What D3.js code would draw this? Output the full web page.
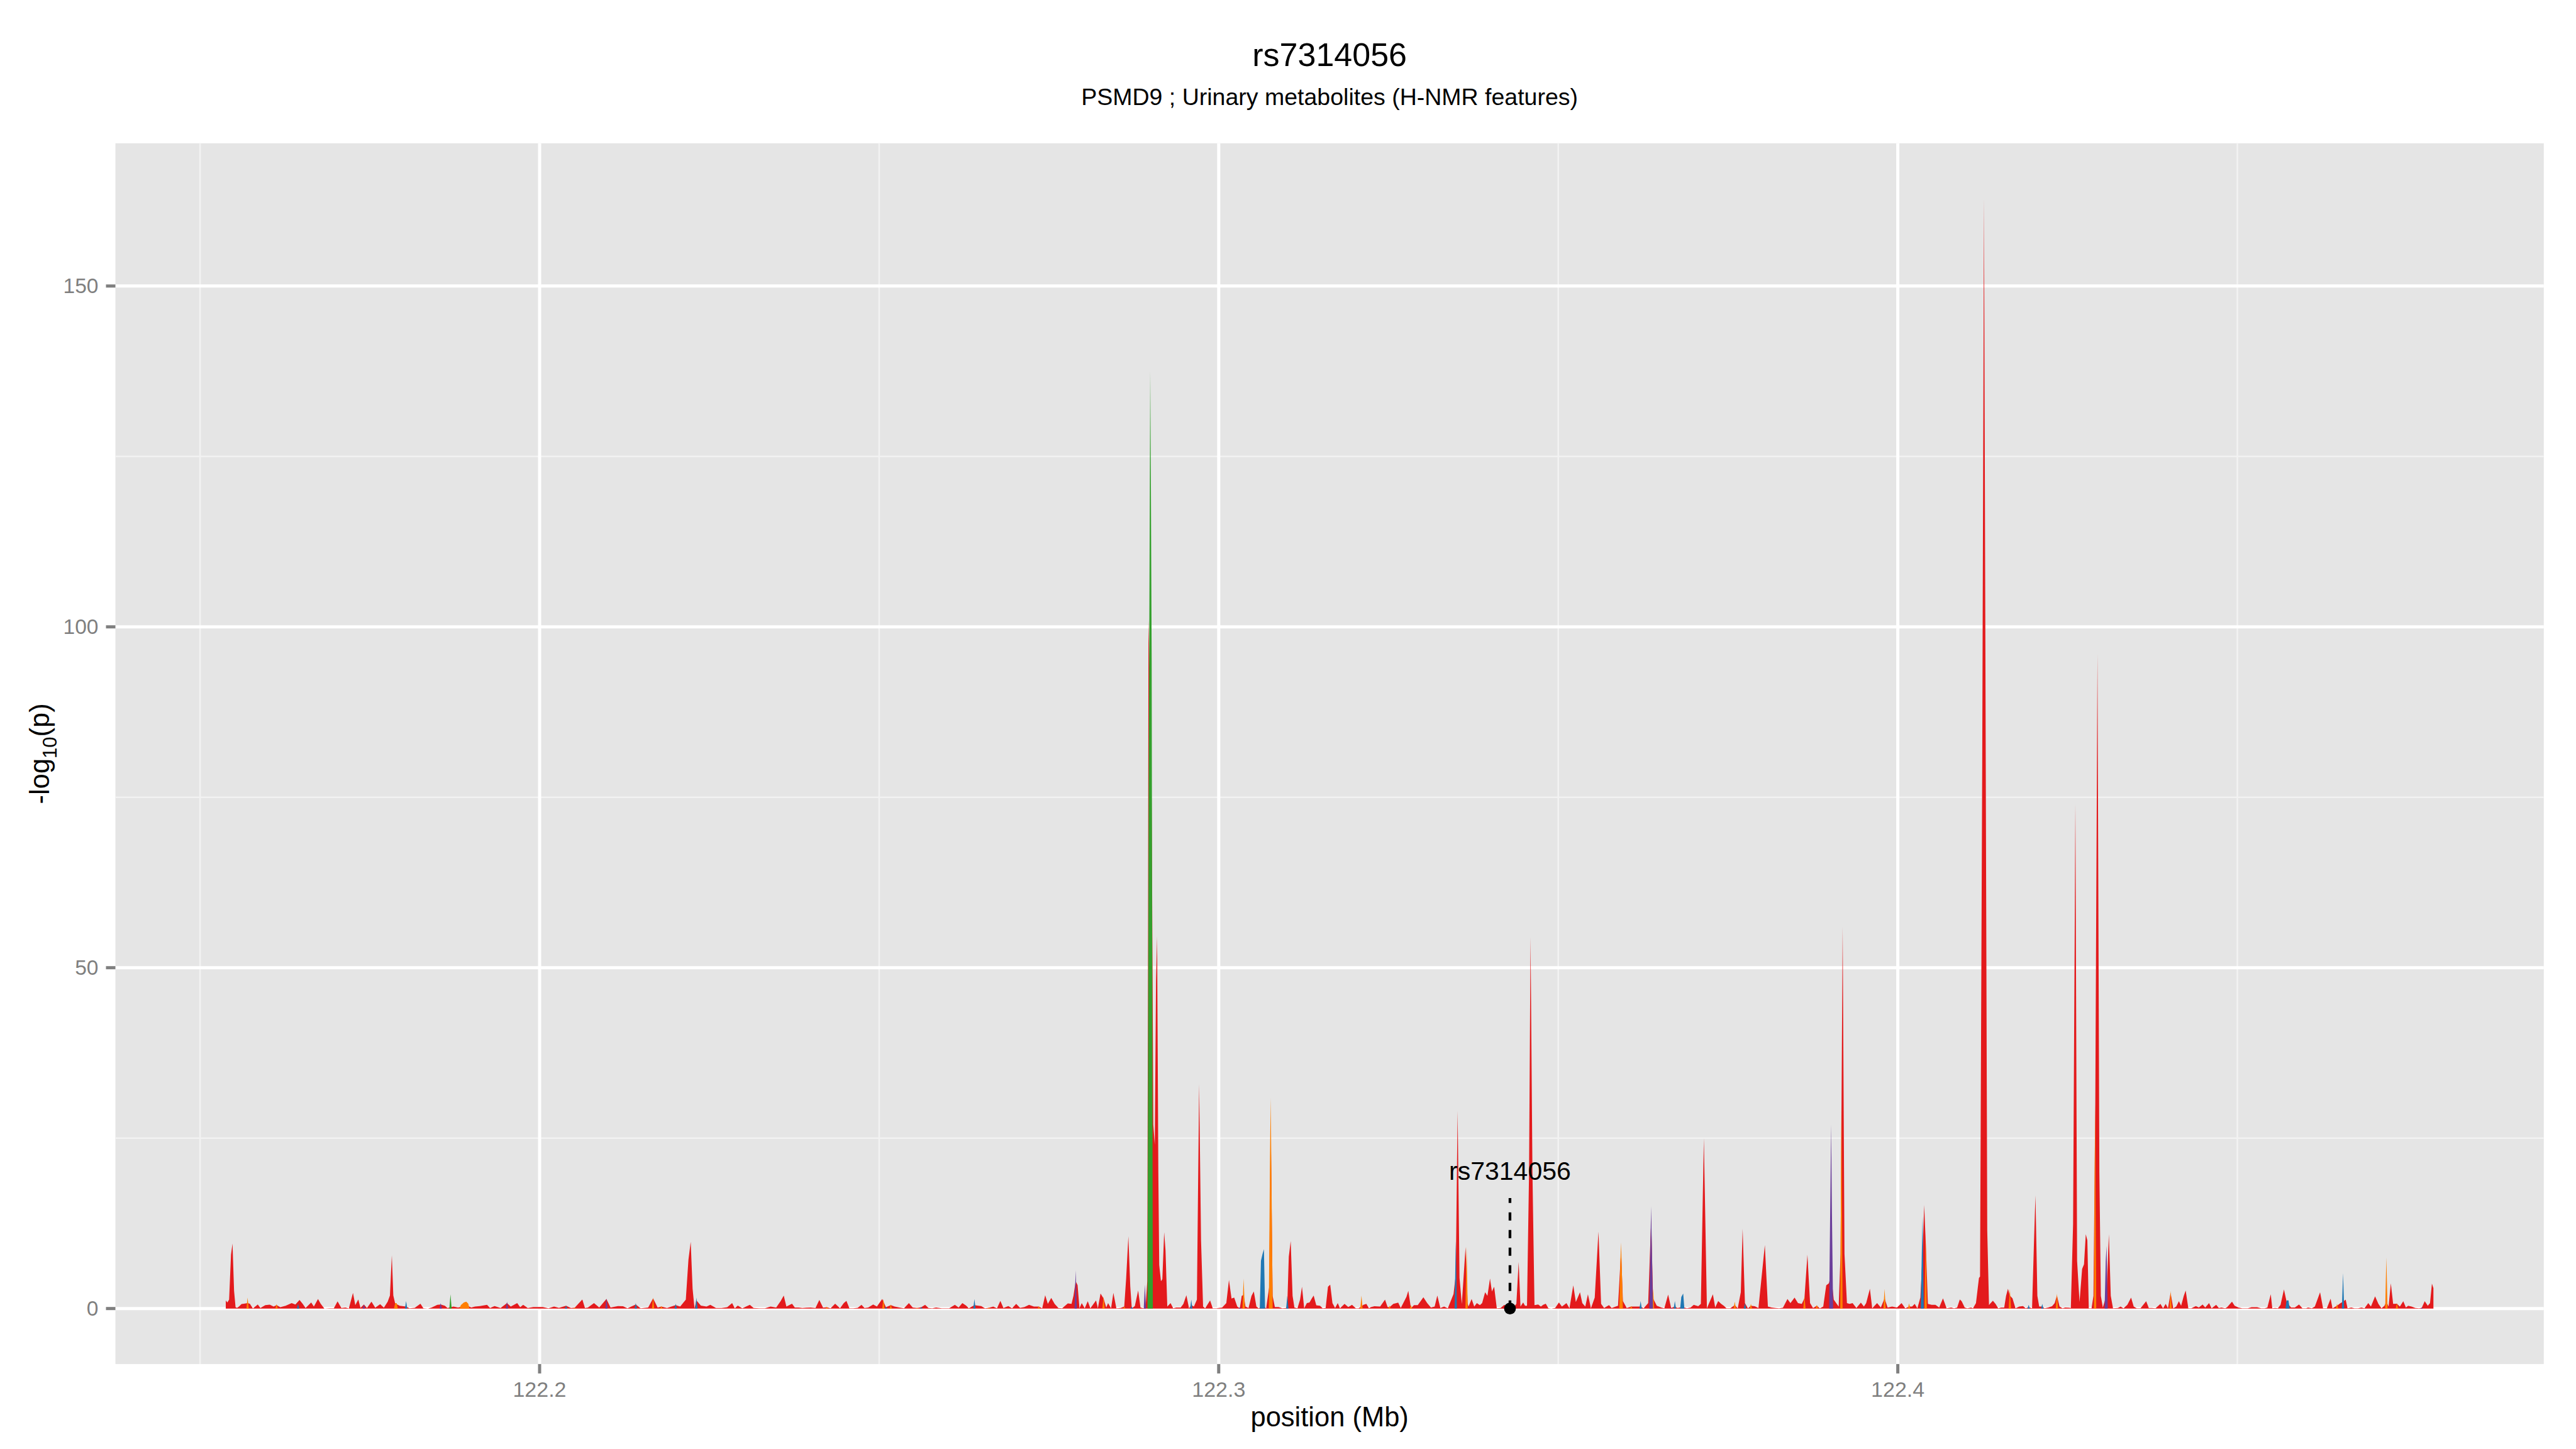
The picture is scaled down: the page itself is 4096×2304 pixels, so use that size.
<!DOCTYPE html>
<html>
<head>
<meta charset="utf-8">
<script src="https://cdn.jsdelivr.net/npm/d3@7"></script>
<style>
  body { margin: 0; background: #fff; }
  svg { display: block; }
</style>
</head>
<body>
<div id="chart"></div>
<script>
// Chart text
const chartTitle = "rs7314056";
const chartSubtitle = "PSMD9 ; Urinary metabolites (H-NMR features)";
const xLabel = "position (Mb)";

// Axis breaks
const xMajor = [122.2, 122.3, 122.4];
const xMinor = [122.15, 122.25, 122.35, 122.45];
const yMajor = [0, 50, 100, 150];
const yMinor = [25, 75, 125];

// Lead SNP annotation
const leadName = "rs7314056";
const leadPos = 122.34289;
const leadLineTop = 16.2;
const leadLabelY = 18.9;

// -log10(p) per SNP, best feature (red group) : [position Mb, value]
const redSeries = [
  [122.15379,1.2],[122.15401,0.9],[122.15428,1.3],[122.15456,7.9],[122.15478,9.55],[122.15501,2.6],[122.15523,0.2],[122.15545,0.1],
  [122.15573,0.3],[122.15611,0.65],[122.15645,0.7],[122.157,0.8],[122.15733,0.7],[122.15778,0.02],[122.1585,0.6],[122.15889,0.08],
  [122.15961,0.5],[122.16027,0.58],[122.16083,0.3],[122.16127,0.5],[122.16182,0.2],[122.1626,0.4],[122.16349,0.8],[122.16404,0.6],
  [122.16465,1.26],[122.1651,0.7],[122.16554,0.08],[122.16637,0.9],[122.16676,0.3],[122.16737,1.4],[122.16776,0.7],[122.16831,0],
  [122.16909,0.05],[122.1697,0.05],[122.17025,1.05],[122.17081,0.08],[122.17142,0.15],[122.17191,0.02],[122.17252,2.3],[122.17286,0.5],
  [122.1733,1.34],[122.17363,0.1],[122.17413,0.6],[122.17458,0.08],[122.17524,1.0],[122.1758,0.13],[122.17652,0.63],[122.17707,0.13],
  [122.17763,1.0],[122.17796,1.9],[122.17824,7.8],[122.17846,1.9],[122.17873,0.75],[122.1794,0.4],[122.18034,0.3],[122.18084,0.03],
  [122.18162,0.1],[122.18245,0.7],[122.18289,0.03],[122.18356,0],[122.18411,0.15],[122.18494,0.55],[122.18544,0.6],[122.18605,0.4],
  [122.18644,0.08],[122.18688,0.2],[122.18733,0.3],[122.18799,0.15],[122.18855,0.3],[122.18938,0.4],[122.18993,0.15],[122.19049,0.3],
  [122.19121,0.37],[122.19226,0.55],[122.1927,0.08],[122.19337,0.35],[122.19426,0.08],[122.1952,0.8],[122.19575,0.3],[122.1967,0.8],
  [122.19714,0.2],[122.19758,0.55],[122.19825,0.08],[122.19908,0.23],[122.19975,0.23],[122.20047,0.23],[122.2013,0.03],[122.20213,0.3],
  [122.20285,0.1],[122.2039,0.4],[122.20462,0.08],[122.20518,0.13],[122.20629,1.34],[122.20668,0.08],[122.20712,0.15],[122.20801,0.8],
  [122.20878,0.15],[122.20984,1.4],[122.21045,0.15],[122.21155,0.37],[122.21228,0.34],[122.21294,0.03],[122.21416,0.6],[122.21488,0.03],
  [122.21599,0.15],[122.21671,1.5],[122.21738,0.15],[122.21793,0.3],[122.21876,0.08],[122.22004,0.5],[122.2207,0.3],[122.22153,1.3],
  [122.22192,7.2],[122.22225,9.8],[122.22253,2.9],[122.22281,0.03],[122.22309,1.2],[122.22375,0.42],[122.22458,0.3],[122.22514,0.55],
  [122.22597,0.08],[122.2268,0.08],[122.22763,0.2],[122.22835,0.8],[122.22874,0.03],[122.22918,0.42],[122.22985,0.03],[122.23096,0.55],
  [122.23151,0.08],[122.23234,0.03],[122.23318,0.03],[122.23401,0.3],[122.23484,0.15],[122.2355,1.1],[122.23595,1.9],[122.23634,0.3],
  [122.23717,0.7],[122.23758,0.15],[122.23814,0.15],[122.23869,0.08],[122.23925,0.13],[122.23991,0.15],[122.24063,0.08],[122.24119,1.26],
  [122.24174,0.13],[122.2423,0.2],[122.24285,0.03],[122.24352,0.7],[122.24424,0.03],[122.24479,0.8],[122.24518,1.13],[122.24562,0.03],
  [122.24618,0.03],[122.24684,0.1],[122.2474,0.55],[122.24784,0.08],[122.24839,0.15],[122.24912,0.6],[122.24967,0.3],[122.25045,1.4],
  [122.251,0.2],[122.25172,0.5],[122.25228,0.3],[122.25311,0.13],[122.25366,0.03],[122.25438,0.8],[122.25494,0.15],[122.2556,0.08],
  [122.25621,0.2],[122.25677,0.55],[122.25726,0.08],[122.25782,0.03],[122.25837,0.15],[122.25921,0.03],[122.26031,0.03],[122.26115,0.55],
  [122.2617,0.15],[122.26225,0.8],[122.26281,0.42],[122.2632,0.03],[122.26403,0.5],[122.26447,0.42],[122.26503,0.37],[122.26558,0.03],
  [122.26614,0.1],[122.2668,0.3],[122.26735,0.03],[122.26785,1.13],[122.2683,0.08],[122.26902,0.37],[122.26957,0.03],[122.27018,0.68],
  [122.27074,0.1],[122.2714,0.23],[122.27207,0.55],[122.27279,0.3],[122.27351,0.3],[122.27401,0.03],[122.27445,1.95],[122.27484,0.68],
  [122.27534,1.55],[122.27584,0.68],[122.27639,0.08],[122.27695,0.03],[122.27778,0.75],[122.27833,0.68],[122.27861,1.85],[122.27894,4.0],
  [122.27922,3.43],[122.2795,0.03],[122.27983,0.8],[122.28027,0.03],[122.28072,1.07],[122.2811,0.03],[122.28194,1.2],[122.28221,0.03],
  [122.2826,2.2],[122.28304,1.5],[122.28344,0.15],[122.28371,0.8],[122.28415,0.03],[122.28449,2.3],[122.28493,0.03],[122.28554,0.08],
  [122.28609,0.3],[122.28637,4.4],[122.2867,10.6],[122.28698,3.2],[122.2872,0.03],[122.28765,0.37],[122.28814,2.65],[122.28848,0.15],
  [122.28898,0.03],[122.28925,0.5],[122.28948,4],[122.28958,45],[122.28966,101],[122.2898,95],[122.28995,90],[122.29008,80],
  [122.29019,63],[122.29037,27],[122.29059,24],[122.29077,48],[122.29093,54.6],[122.29111,20],[122.29124,6.4],[122.2915,4],
  [122.2917,4.3],[122.29197,11.2],[122.29217,8.5],[122.29243,0.3],[122.29291,0.8],[122.2933,0.03],[122.29374,0.15],[122.29441,0.15],
  [122.2948,0.68],[122.29524,1.95],[122.29563,0.03],[122.29596,0.5],[122.29635,0.3],[122.29679,1.3],[122.29712,32.9],[122.2974,10],
  [122.2977,0.3],[122.29801,0.03],[122.29873,1.2],[122.29912,0.03],[122.29968,0.03],[122.30051,0.15],[122.30112,0.8],[122.30151,4.2],
  [122.30189,1.47],[122.30228,1.6],[122.30273,0.3],[122.30311,0.03],[122.30339,1.85],[122.30367,2],[122.30395,0.3],[122.30439,0.08],
  [122.30483,1.85],[122.30517,2.5],[122.30555,0.3],[122.30589,0.03],[122.30633,0.3],[122.30666,0.3],[122.30699,0.03],[122.30744,3.2],
  [122.30766,27],[122.30794,1.85],[122.30827,0.23],[122.30882,0.23],[122.30938,0.03],[122.30993,0.08],[122.3101,0.5],[122.31032,7.6],
  [122.3106,9.9],[122.31088,1.85],[122.31115,0.15],[122.3116,0.03],[122.31198,1.3],[122.31226,3.2],[122.31259,0.03],[122.31298,0.8],
  [122.31337,0.9],[122.3137,1.47],[122.31398,1.9],[122.31437,0.47],[122.31492,0.4],[122.31531,0.03],[122.31575,0.08],[122.31609,3.2],
  [122.31642,3.5],[122.31675,0.8],[122.31714,0.08],[122.31753,0.8],[122.31786,0.03],[122.31853,0.68],[122.31908,0.23],[122.31963,0.55],
  [122.32019,0.03],[122.32058,0.03],[122.32102,0.3],[122.3213,0.55],[122.32174,0.68],[122.32213,0.03],[122.32238,0.2],[122.32293,0.34],
  [122.32377,0.3],[122.32449,1.3],[122.32487,0.23],[122.32516,0.2],[122.32571,0.68],[122.32643,0.86],[122.32681,0.08],[122.32765,1.73],
  [122.32792,2.6],[122.32831,0.03],[122.32875,0.5],[122.32931,0.5],[122.33014,1.65],[122.3307,0.8],[122.33125,0.15],[122.3318,0.3],
  [122.33219,1.9],[122.33264,0.08],[122.33319,0.3],[122.33374,0.03],[122.33458,2.13],[122.33491,5],[122.33518,29],[122.33546,4.5],
  [122.3358,0.68],[122.33635,9.0],[122.33665,0.8],[122.33679,0.3],[122.33724,1.4],[122.33763,0.3],[122.33801,0.8],[122.33846,0.5],
  [122.33879,0.8],[122.33923,2.4],[122.33957,1.85],[122.33995,4.4],[122.34023,2.5],[122.34056,3.2],[122.34095,0.03],[122.34151,0.08],
  [122.34206,0.55],[122.34289,0],[122.34345,0.23],[122.34383,0.68],[122.34417,6.85],[122.34444,0.3],[122.34483,0.9],[122.34511,0.4],
  [122.3454,0.4],[122.3457,20],[122.34592,54.5],[122.3462,20],[122.3465,0.5],[122.34705,0.6],[122.34744,0.3],[122.34777,0.55],
  [122.34816,0.7],[122.34855,0.03],[122.34899,0],[122.34954,0.08],[122.3501,0.9],[122.35054,0.3],[122.35121,0.8],[122.35165,0.03],
  [122.35221,3.4],[122.35259,0.95],[122.3532,2.4],[122.35354,0.8],[122.35398,0.3],[122.35437,2.1],[122.35481,0.03],[122.35537,1.6],
  [122.35592,11.3],[122.35631,0.68],[122.35675,0.08],[122.35747,0.5],[122.35786,0.08],[122.3588,0.4],[122.35925,8.5],[122.35952,1.1],
  [122.36008,0.08],[122.36074,0.3],[122.36135,0.3],[122.36213,0.3],[122.36257,0.03],[122.36324,0.8],[122.36368,13],[122.36396,1.5],
  [122.36451,0.4],[122.36518,0.15],[122.36562,0.03],[122.36618,2.05],[122.36662,0.08],[122.36717,0.3],[122.36756,0.08],[122.36812,0.2],
  [122.3684,0.2],[122.36895,0.03],[122.3695,0.15],[122.36995,0.55],[122.37061,0.34],[122.371,0.68],[122.37144,25],[122.37189,0.03],
  [122.37277,2.1],[122.37311,0.15],[122.37355,1.1],[122.37399,0.68],[122.37438,0.4],[122.37477,0.03],[122.37532,0.03],[122.37599,0.5],
  [122.37643,0.03],[122.37688,2.4],[122.37715,11.7],[122.37749,0.8],[122.37793,0.03],[122.37837,0.4],[122.37893,0.34],[122.37948,0.08],
  [122.38042,9.3],[122.38087,0.3],[122.38142,0.15],[122.38198,0.08],[122.38253,0.03],[122.38309,0.13],[122.38375,1.4],[122.38419,0.8],
  [122.3848,1.6],[122.3853,0.8],[122.38586,0.68],[122.38625,1.5],[122.38669,7.9],[122.38708,0.8],[122.38752,0.08],[122.38808,0.4],
  [122.38852,0.03],[122.38902,0.3],[122.38946,3.4],[122.38985,3.7],[122.39018,5],[122.39057,1.3],[122.39101,0.68],[122.39129,0.3],
  [122.39157,8],[122.39188,56],[122.39215,8],[122.39251,0.8],[122.3929,0.68],[122.39334,0.8],[122.3939,0.08],[122.39456,0.86],
  [122.39501,0.3],[122.39534,0.8],[122.39589,2.9],[122.39623,0.03],[122.39695,0.8],[122.3975,0.15],[122.39805,1.5],[122.3985,0.15],
  [122.39916,0.3],[122.39988,0.15],[122.40055,0.8],[122.4011,0.03],[122.40166,0.3],[122.4021,0.3],[122.40249,0.68],[122.40288,0.03],
  [122.40332,1.6],[122.40365,8],[122.40388,15.2],[122.4041,10],[122.40443,0.68],[122.40498,0.55],[122.40554,0.55],[122.40609,0.15],
  [122.40665,1.5],[122.40691,0.8],[122.40718,0.03],[122.40785,0.15],[122.40829,0.03],[122.40874,0.15],[122.40913,1.34],[122.4094,1.07],
  [122.40985,0.15],[122.41023,0.03],[122.41079,0.15],[122.41107,0.03],[122.41151,0.8],[122.41195,4.5],[122.41211,4.7],[122.41243,80],
  [122.41269,162.8],[122.41295,80],[122.41317,11.4],[122.41343,0.5],[122.41356,0.68],[122.414,1.15],[122.41439,0.68],[122.41478,0.03],
  [122.41522,0.15],[122.41567,0.15],[122.41594,1.86],[122.41622,2.9],[122.4165,1.9],[122.41689,1.5],[122.41733,0.03],[122.41788,0.3],
  [122.41844,0.37],[122.41883,0.03],[122.41927,0.2],[122.41977,0.03],[122.42005,9.7],[122.42027,16.6],[122.42055,1.85],[122.42082,0.3],
  [122.42127,0.3],[122.4216,0.03],[122.42215,0.15],[122.42271,0.34],[122.4231,0.8],[122.42343,1.9],[122.42382,0.3],[122.42426,0.03],
  [122.42465,0.15],[122.4252,0.13],[122.42548,0.08],[122.42581,12.4],[122.42615,74],[122.42640,7],[122.42676,0.95],[122.42714,5.8],
  [122.42742,6.5],[122.42768,10.9],[122.42791,10],[122.42812,0.03],[122.42853,0.03],[122.42881,1.85],[122.42908,30],[122.42940,96],
  [122.42968,20],[122.4299,1.85],[122.43019,0.15],[122.43074,2],[122.43108,10.9],[122.43136,1.85],[122.43169,0.03],[122.43241,0.08],
  [122.4328,0.3],[122.43324,0.03],[122.4338,0.55],[122.43435,1.6],[122.43474,0.3],[122.43518,0.03],[122.43574,0.03],[122.43657,1.07],
  [122.43696,0.08],[122.4374,0.08],[122.43795,0.03],[122.43867,0.68],[122.43906,0.03],[122.43945,0.68],[122.43978,0.03],[122.44017,2.3],
  [122.44056,0.03],[122.441,0.3],[122.44139,1.07],[122.44172,0.4],[122.44211,1.85],[122.44239,2.65],[122.44278,0.03],[122.44322,0.03],
  [122.44389,0.37],[122.44433,0.15],[122.44488,0.6],[122.44527,0.15],[122.44583,0.8],[122.44621,0.03],[122.44688,0.55],[122.44727,0.08],
  [122.44766,0.15],[122.44821,0.03],[122.44849,0.2],[122.44921,1.0],[122.4496,0.4],[122.45015,0.15],[122.45071,0.03],[122.45154,0.03],
  [122.45209,0.2],[122.45292,0.2],[122.45348,0.03],[122.45403,0.03],[122.45442,0.15],[122.45492,2.1],[122.45514,0.03],[122.45558,0.08],
  [122.45597,0.03],[122.45636,0.55],[122.45686,2.8],[122.45725,1.0],[122.45753,0.6],[122.45791,0.15],[122.45847,0.15],[122.45908,0.6],
  [122.45958,0.03],[122.46013,0.03],[122.46041,0.15],[122.46096,0.03],[122.46141,0.3],[122.46218,2.4],[122.46262,0.03],[122.46318,0.03],
  [122.46373,1.45],[122.46401,0.03],[122.46468,0.4],[122.46512,0.76],[122.46556,1],[122.46595,1.3],[122.46623,0.03],[122.46678,0.15],
  [122.46723,0.03],[122.46778,0.03],[122.46828,0.15],[122.46872,0.03],[122.46928,0.8],[122.46967,0.3],[122.47028,1.8],[122.47077,0.68],
  [122.47122,0.03],[122.47166,0.4],[122.47194,1],[122.47227,0.3],[122.4726,3.7],[122.47294,0.68],[122.47349,0.7],[122.47393,0.3],
  [122.47443,1.07],[122.47482,0.15],[122.47515,0.4],[122.47565,0.3],[122.47621,0.08],[122.47676,0.03],[122.47715,0.1],[122.47759,1.07],
  [122.47804,0.4],[122.47837,0.8],[122.47865,3.65],[122.47887,3.0]
];

// SNPs where another feature group is the top association
const orangeSpikes = [
  [122.157,1.6],[122.16127,0.65],[122.17873,0.8],[122.17895,0.8],[122.1884,0.5],[122.18885,0.9],[122.1892,1.0],[122.1895,0.7],
  [122.20518,0.13],[122.21671,1.6],[122.21793,0.37],[122.2423,0.25],[122.25062,1.4],[122.25172,0.6],[122.2556,0.1],[122.26614,0.15],
  [122.27351,0.34],[122.28304,1.74],[122.28609,0.3],[122.30367,4.4],[122.30755,22],[122.30766,30.9],[122.30778,18],[122.32102,1.9],
  [122.32516,0.4],[122.32831,0.5],[122.3365,9.1],[122.35915,7],[122.35925,9.7],[122.35935,6],[122.36074,0.37],[122.36396,2.9],
  [122.37599,1.0],[122.37837,0.68],[122.38625,1.85],[122.38808,0.55],[122.3917,30],[122.39805,2.9],[122.40166,0.75],
  [122.4041,10.8],[122.4165,2.9],[122.42343,2.2],[122.42905,30],[122.44017,2.6],[122.46468,0.68],[122.47194,7.5],
  [122.47349,0.8]
];
const blueSpikes = [
  [122.16443,0.7],[122.18034,1.1],[122.2039,0.4],[122.21416,0.8],[122.22004,0.7],[122.22309,1.6],[122.251,0.23],[122.25621,0.23],
  [122.26403,1.4],[122.2872,0.3],[122.29596,1.3],[122.30622,7.0],[122.30645,8.0],[122.30666,8.7],[122.3101,1.85],[122.33491,9.9],
  [122.36213,1.1],[122.36717,1.1],[122.36812,1.7],[122.3684,2.2],[122.37749,0.8],[122.40355,9],[122.40365,13.5],[122.41927,0.55],
  [122.42127,0.68],[122.45725,1.2],[122.45753,1.2],[122.46556,5.2]
];
const purpleSpikes = [
  [122.17413,0.6],[122.18544,0.8],[122.1952,1.0],[122.20984,1.5],[122.27894,5.6],[122.28913,3.5],[122.30311,0.2],[122.36358,10],
  [122.36368,15],[122.36378,9],[122.36662,0.1],[122.39006,16],[122.39018,27],[122.3903,14],[122.43062,7],[122.43074,9.2],
  [122.47715,0.15]
];
const greenSpikes = [
  [122.18688,2.1],[122.28969,75],[122.28982,110],[122.28992,137.5],[122.29002,120],[122.29013,95]
];

const groupColors = {
  red: "#E31A1C",
  orange: "#FF7F00",
  blue: "#1F78B4",
  purple: "#6A3D9A",
  green: "#33A02C",
};

// Layout (window 4096x2304)
const width = 4096, height = 2304;
const panel = { left: 183.5, right: 4044.8, top: 227.8, bottom: 2168.9 };
const font = "'Liberation Sans', Arial, Helvetica, sans-serif";

const svg = d3.select("#chart").append("svg")
  .attr("width", width).attr("height", height)
  .attr("viewBox", `0 0 ${width} ${height}`);
svg.append("rect").attr("width", width).attr("height", height).attr("fill", "#fff");

// Scales with ggplot-style 5% expansion
const xExt = d3.extent(redSeries, d => d[0]);
const xPad = (xExt[1] - xExt[0]) * 0.05;
const x = d3.scaleLinear().domain([xExt[0] - xPad, xExt[1] + xPad]).range([panel.left, panel.right]);
const yMax = d3.max(redSeries, d => d[1]);
const yPad = yMax * 0.05;
const y = d3.scaleLinear().domain([-yPad, yMax + yPad]).range([panel.bottom, panel.top]);

// Panel background and grid
svg.append("rect")
  .attr("x", panel.left).attr("y", panel.top)
  .attr("width", panel.right - panel.left).attr("height", panel.bottom - panel.top)
  .attr("fill", "#E5E5E5");

const grid = svg.append("g").attr("class", "grid");
grid.selectAll(".xminor").data(xMinor).enter().append("line")
  .attr("x1", d => x(d)).attr("x2", d => x(d)).attr("y1", panel.top).attr("y2", panel.bottom)
  .attr("stroke", "#F2F2F2").attr("stroke-width", 2.5);
grid.selectAll(".yminor").data(yMinor).enter().append("line")
  .attr("y1", d => y(d)).attr("y2", d => y(d)).attr("x1", panel.left).attr("x2", panel.right)
  .attr("stroke", "#F2F2F2").attr("stroke-width", 2.5);
grid.selectAll(".xmajor").data(xMajor).enter().append("line")
  .attr("x1", d => x(d)).attr("x2", d => x(d)).attr("y1", panel.top).attr("y2", panel.bottom)
  .attr("stroke", "#fff").attr("stroke-width", 5);
grid.selectAll(".ymajor").data(yMajor).enter().append("line")
  .attr("y1", d => y(d)).attr("y2", d => y(d)).attr("x1", panel.left).attr("x2", panel.right)
  .attr("stroke", "#fff").attr("stroke-width", 5);

// Areas
svg.append("clipPath").attr("id", "panel-clip").append("rect")
  .attr("x", panel.left).attr("y", panel.top)
  .attr("width", panel.right - panel.left).attr("height", panel.bottom - panel.top);
const plot = svg.append("g").attr("clip-path", "url(#panel-clip)");

const area = d3.area().x(d => x(d[0])).y0(y(0)).y1(d => y(d[1]));

// a lone SNP falls back to zero at its neighbours
const snpHalf = 0.00017, snpJoin = 0.0005;
function spikePoints(spikes) {
  const s = spikes.slice().sort((a, b) => a[0] - b[0]);
  const pts = [];
  s.forEach((d, i) => {
    const prev = s[i - 1], next = s[i + 1];
    if (!prev || d[0] - prev[0] > snpJoin) pts.push([d[0] - snpHalf, 0]);
    pts.push(d);
    if (!next || next[0] - d[0] > snpJoin) pts.push([d[0] + snpHalf, 0]);
  });
  return pts;
}

plot.append("path").attr("d", area(redSeries)).attr("fill", groupColors.red);
[
  ["orange", orangeSpikes],
  ["blue", blueSpikes],
  ["purple", purpleSpikes],
  ["green", greenSpikes],
].forEach(([key, spikes]) => {
  plot.append("path").attr("d", area(spikePoints(spikes))).attr("fill", groupColors[key]);
});

// Lead SNP marker
plot.append("line")
  .attr("x1", x(leadPos)).attr("x2", x(leadPos))
  .attr("y1", y(0)).attr("y2", y(leadLineTop))
  .attr("stroke", "#000").attr("stroke-width", 4.3).attr("stroke-dasharray", "13,15");
plot.append("circle")
  .attr("cx", x(leadPos)).attr("cy", y(0)).attr("r", 9.4).attr("fill", "#000");
svg.append("text")
  .attr("x", x(leadPos)).attr("y", y(leadLabelY))
  .attr("text-anchor", "middle")
  .attr("font-family", font).attr("font-size", 41).attr("fill", "#000")
  .text(leadName);

// Axes
const xAxis = svg.append("g").attr("transform", `translate(0,${panel.bottom})`);
xAxis.selectAll("line").data(xMajor).enter().append("line")
  .attr("x1", d => x(d)).attr("x2", d => x(d)).attr("y1", 0).attr("y2", 15)
  .attr("stroke", "#7F7F7F").attr("stroke-width", 5);
xAxis.selectAll("text").data(xMajor).enter().append("text")
  .attr("x", d => x(d)).attr("y", 52)
  .attr("text-anchor", "middle")
  .attr("font-family", font).attr("font-size", 34).attr("fill", "#7F7F7F")
  .text(d => d3.format(".1f")(d));

const yAxis = svg.append("g").attr("transform", `translate(${panel.left},0)`);
yAxis.selectAll("line").data(yMajor).enter().append("line")
  .attr("y1", d => y(d)).attr("y2", d => y(d)).attr("x1", -15).attr("x2", 0)
  .attr("stroke", "#7F7F7F").attr("stroke-width", 5);
yAxis.selectAll("text").data(yMajor).enter().append("text")
  .attr("x", -27).attr("y", d => y(d))
  .attr("text-anchor", "end").attr("dominant-baseline", "central")
  .attr("font-family", font).attr("font-size", 33.5).attr("fill", "#7F7F7F")
  .text(d => d);

// Titles
const midX = (panel.left + panel.right) / 2;
svg.append("text")
  .attr("x", midX).attr("y", 105)
  .attr("text-anchor", "middle")
  .attr("font-family", font).attr("font-size", 52).attr("fill", "#000")
  .text(chartTitle);
svg.append("text")
  .attr("x", midX).attr("y", 167)
  .attr("text-anchor", "middle")
  .attr("font-family", font).attr("font-size", 37.5).attr("fill", "#000")
  .text(chartSubtitle);
svg.append("text")
  .attr("x", midX).attr("y", 2268)
  .attr("text-anchor", "middle")
  .attr("font-family", font).attr("font-size", 43.5).attr("fill", "#000")
  .text(xLabel);

const yTitle = svg.append("text")
  .attr("transform", `translate(78,${(panel.top + panel.bottom) / 2}) rotate(-90)`)
  .attr("text-anchor", "middle")
  .attr("font-family", font).attr("font-size", 43.5).attr("fill", "#000");
yTitle.append("tspan").text("-log");
yTitle.append("tspan").attr("font-size", 31).attr("dy", 12).text("10");
yTitle.append("tspan").attr("dy", -12).text("(p)");
</script>
</body>
</html>
